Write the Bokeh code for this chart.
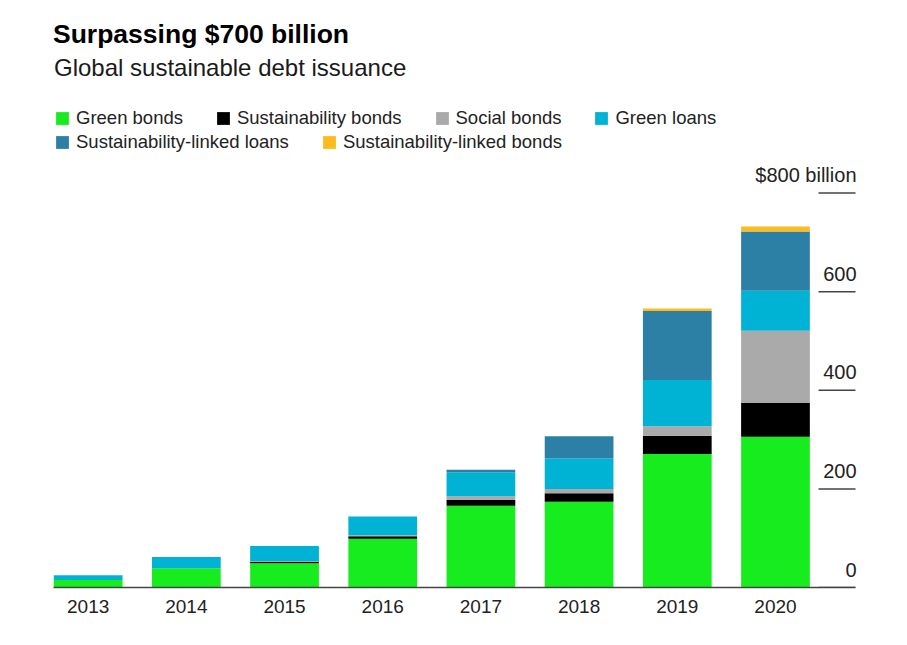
from bokeh.plotting import figure
from bokeh.models import ColumnDataSource, Range1d, FixedTicker, Label, Legend, LegendItem
from bokeh.embed import file_html
from bokeh.resources import INLINE
from bokeh.core.properties import value

# ---------------- data (billions of US$) ----------------
years = [2013, 2014, 2015, 2016, 2017, 2018, 2019, 2020]
green_bonds = [15, 39, 49, 99, 166, 174, 271, 306]
sustainability_bonds = [0, 0, 3, 5, 12, 17, 37, 68]
social_bonds = [0, 0, 1, 2, 7, 9, 19, 147]
green_loans = [10, 23, 31, 38, 49, 62, 94, 81]
sustainability_linked_loans = [0, 0, 0, 0, 5, 45, 140, 120]
sustainability_linked_bonds = [0, 0, 0, 0, 0, 0, 5, 10]

series_names = ["Green bonds", "Sustainability bonds", "Social bonds", "Green loans",
                "Sustainability-linked loans", "Sustainability-linked bonds"]
series_keys = ["green_bonds", "sustainability_bonds", "social_bonds", "green_loans",
               "sustainability_linked_loans", "sustainability_linked_bonds"]
series_colors = ["#17EC1F", "#000000", "#AAAAAA", "#00B3D4", "#2C80A5", "#FDBB1E"]

y_ticks = [0, 200, 400, 600, 800]
y_tick_labels = ["0", "200", "400", "600", "$800 billion"]

title_text = "Surpassing $700 billion"
subtitle_text = "Global sustainable debt issuance"

# ---------------- layout constants ----------------
W, H = 900, 635
FRAME_H = 587                 # canvas y of the zero line
BOTTOM = H - FRAME_H
PX_PER_UNIT = 0.493           # pixels per $1 billion
PX_PER_YEAR = 98.19           # pixels between bar centres
X0 = 87.65                    # canvas x of first bar centre
FONT = "Liberation Sans"


def x_at(px):
    return years[0] + (px - X0) / PX_PER_YEAR


def y_at(py):
    return (FRAME_H - py) / PX_PER_UNIT


source = ColumnDataSource(dict(
    year=years,
    green_bonds=green_bonds,
    sustainability_bonds=sustainability_bonds,
    social_bonds=social_bonds,
    green_loans=green_loans,
    sustainability_linked_loans=sustainability_linked_loans,
    sustainability_linked_bonds=sustainability_linked_bonds,
))

p = figure(width=W, height=H,
           x_range=Range1d(x_at(0), x_at(W)),
           y_range=Range1d(0, y_at(0)),
           output_backend="svg", toolbar_location=None,
           y_axis_location=None,
           min_border_left=0, min_border_right=0, min_border_top=0,
           min_border_bottom=BOTTOM)
p.outline_line_color = None
p.xgrid.visible = False
p.ygrid.visible = False
p.background_fill_color = "white"
p.border_fill_color = "white"

# x axis (baseline + year labels)
xa = p.xaxis[0]
xa.ticker = FixedTicker(ticks=years)
xa.major_label_overrides = {y: str(y) for y in years}
xa.bounds = (x_at(53.3), x_at(855))
xa.axis_line_color = "#444444"
xa.axis_line_width = 1.5
xa.major_tick_line_color = None
xa.minor_tick_line_color = None
xa.major_label_text_font = FONT
xa.major_label_text_font_size = "19px"
xa.major_label_text_color = "#222222"
xa.major_label_standoff = 6

# stacked bars
renderers = p.vbar_stack(series_keys, x="year", width=0.7, source=source,
                         fill_color=series_colors, line_color=None)

# right-hand value scale: short rules with labels above them
tick_src = ColumnDataSource(dict(y=y_ticks, label=y_tick_labels))
p.segment(x0=x_at(818), y0="y", x1=x_at(855), y1="y", source=tick_src,
          line_color="#444444", line_width=1.5)
p.text(x=x_at(856), y="y", text="label", source=tick_src,
       text_align="right", text_baseline="middle", y_offset=-18,
       text_font=value(FONT), text_font_size="20px", text_color="#222222")

# title and subtitle
p.add_layout(Label(x=x_at(52.5), y=y_at(33.7), text=title_text,
                   text_font=FONT, text_font_style="bold", text_font_size="26.5px",
                   text_baseline="middle", text_color="#000000"))
p.add_layout(Label(x=x_at(53.5), y=y_at(66.7), text=subtitle_text,
                   text_font=FONT, text_font_size="24px",
                   text_baseline="middle", text_color="#1A1A1A"))

# legend, two rows
items = [LegendItem(label=n, renderers=[r]) for n, r in zip(series_names, renderers)]


def make_legend(its, loc):
    lg = Legend(items=its, orientation="horizontal", location=loc,
                label_text_font=FONT, label_text_font_size="18.5px",
                label_text_color="#222222",
                glyph_width=16, glyph_height=16, label_height=16,
                label_standoff=6, spacing=32, padding=0, margin=0,
                border_line_color=None, background_fill_alpha=0)
    return lg


p.add_layout(make_legend(items[:4], (54, FRAME_H - 128.5)), "center")
p.add_layout(make_legend(items[4:], (54, FRAME_H - 153.3)), "center")

open("out.html", "w").write(file_html(p, INLINE))
